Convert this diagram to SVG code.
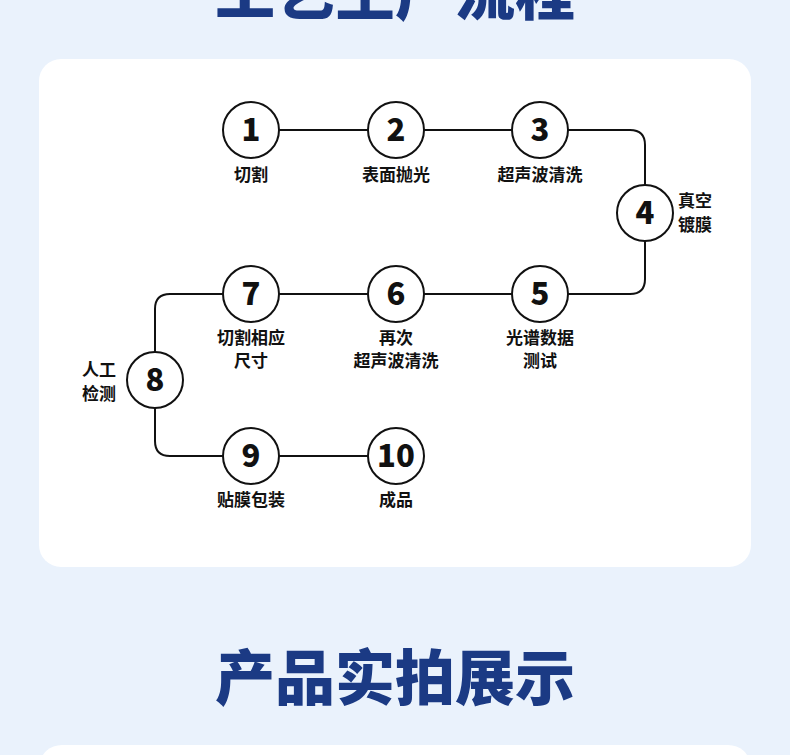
<svg xmlns="http://www.w3.org/2000/svg" width="790" height="755" viewBox="0 0 790 755">
<defs>
<style>
.title{font-family:"Noto Sans CJK SC","Noto Sans",sans-serif;font-weight:900;font-size:60px;fill:#1b3a84;text-anchor:middle}
.card{fill:#ffffff}
.node circle{fill:#ffffff;stroke:#111111;stroke-width:2}
.num{font-family:"Noto Sans CJK SC","Noto Sans",sans-serif;font-weight:900;font-size:31px;fill:#111111;text-anchor:middle}
.lbl{font-family:"Noto Sans CJK SC",sans-serif;font-weight:700;font-size:17px;fill:#111111;text-anchor:middle}
.lbl.l{text-anchor:start}
.lbl.r{text-anchor:end}
.conn path{fill:none;stroke:#111111;stroke-width:2}
</style>
</defs>
<rect width="790" height="755" fill="#eaf2fc"/>
<text class="title" x="395" y="15">工艺生产流程</text>
<rect class="card" x="39" y="59" width="712" height="508" rx="22"/>
<text class="title" x="395" y="700">产品实拍展示</text>
<rect class="card" x="40" y="745" width="710" height="40" rx="22"/>
<g class="conn">
<path d="M279 130 H368"/>
<path d="M424 130 H512"/>
<path d="M568 130 H630 Q645 130 645 145 V185"/>
<path d="M645 241 V279 Q645 294 630 294 H568"/>
<path d="M512 294 H424"/>
<path d="M368 294 H279"/>
<path d="M223 294 H170 Q155 294 155 309 V352"/>
<path d="M155 408 V441 Q155 456 170 456 H223"/>
<path d="M279 456 H368"/>
</g>
<g id="n1" class="node"><circle cx="251" cy="130" r="28"/><text class="num" x="251" y="141">1</text><text class="lbl" x="251" y="181">切割</text></g>
<g id="n2" class="node"><circle cx="396" cy="130" r="28"/><text class="num" x="396" y="141">2</text><text class="lbl" x="396" y="181">表面抛光</text></g>
<g id="n3" class="node"><circle cx="540" cy="130" r="28"/><text class="num" x="540" y="141">3</text><text class="lbl" x="540" y="181">超声波清洗</text></g>
<g id="n4" class="node"><circle cx="645" cy="213" r="28"/><text class="num" x="645" y="224">4</text><text class="lbl l" x="678" y="207">真空</text><text class="lbl l" x="678" y="231">镀膜</text></g>
<g id="n5" class="node"><circle cx="540" cy="294" r="28"/><text class="num" x="540" y="305">5</text><text class="lbl" x="540" y="344">光谱数据</text><text class="lbl" x="540" y="367">测试</text></g>
<g id="n6" class="node"><circle cx="396" cy="294" r="28"/><text class="num" x="396" y="305">6</text><text class="lbl" x="396" y="344">再次</text><text class="lbl" x="396" y="367">超声波清洗</text></g>
<g id="n7" class="node"><circle cx="251" cy="294" r="28"/><text class="num" x="251" y="305">7</text><text class="lbl" x="251" y="344">切割相应</text><text class="lbl" x="251" y="367">尺寸</text></g>
<g id="n8" class="node"><circle cx="155" cy="380" r="28"/><text class="num" x="155" y="391">8</text><text class="lbl r" x="116" y="376">人工</text><text class="lbl r" x="116" y="400">检测</text></g>
<g id="n9" class="node"><circle cx="251" cy="456" r="28"/><text class="num" x="251" y="467">9</text><text class="lbl" x="251" y="506">贴膜包装</text></g>
<g id="n10" class="node"><circle cx="396" cy="456" r="28"/><text class="num" x="396" y="467">10</text><text class="lbl" x="396" y="506">成品</text></g>
</svg>
